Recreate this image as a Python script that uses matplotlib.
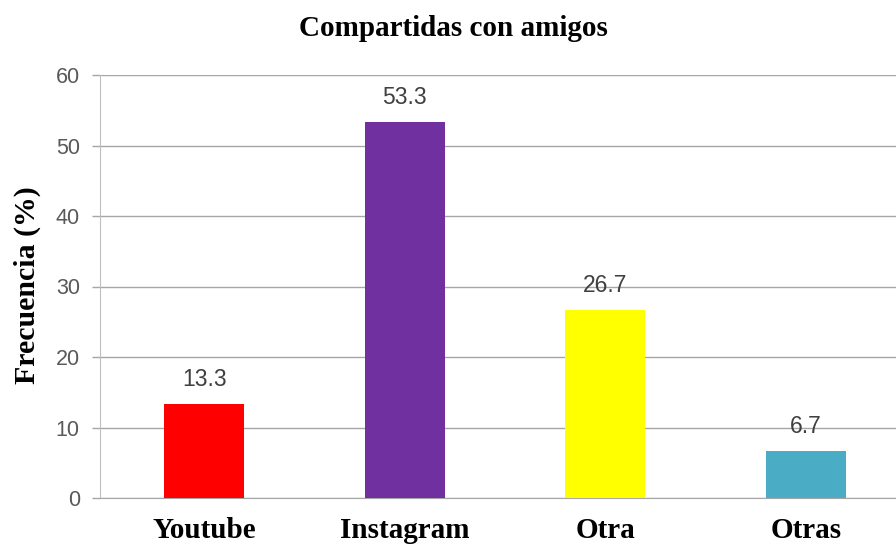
import matplotlib
matplotlib.use("Agg")
import matplotlib.pyplot as plt

categories = ["Youtube", "Instagram", "Otra", "Otras"]
values = [13.3, 53.3, 26.7, 6.7]
colors = ["#FF0000", "#7030A0", "#FFFF00", "#4BACC6"]
yticks = [0, 10, 20, 30, 40, 50, 60]

fig = plt.figure(figsize=(8.96, 5.44), dpi=100)
ax = fig.add_axes([100/896, 1-498/544, 1-100/896, (498-75)/544])

x = list(range(len(categories)))
bars = ax.bar(x, values, width=0.4, color=colors, zorder=3)
for xi, v in zip(x, values):
    ax.text(xi, v + 3.5, f"{v:.1f}", ha="center", va="center",
            fontsize=16.5, color="#404040", family="Liberation Sans")

ax.set_xlim(-0.52, 3.45)
ax.set_ylim(0, 60)
ax.set_yticks(yticks)
ax.set_xticks(x)
ax.set_xticklabels(categories, family="Liberation Serif", fontweight="bold", fontsize=21)
for lab in ax.get_yticklabels():
    lab.set_family("Liberation Sans")
    lab.set_fontsize(15.5)
    lab.set_color("#595959")
ax.tick_params(axis="x", length=0, pad=14)
ax.tick_params(axis="y", length=5.5, width=1, color="#a6a6a6", pad=9)
ax.grid(axis="y", color="#a6a6a6", linewidth=1, zorder=0)
for s in ["top", "right"]:
    ax.spines[s].set_visible(False)
ax.spines["left"].set_color("#bfbfbf")
ax.spines["bottom"].set_color("#a6a6a6")

fig.text(27/896, 1-285/544, "Frecuencia (%)", rotation=90, ha="center", va="center",
         family="Liberation Serif", fontweight="bold", fontsize=21.5)
fig.text(453/896, 1-28/544, "Compartidas con amigos", ha="center", va="center",
         family="Liberation Serif", fontweight="bold", fontsize=21)

fig.savefig("out.png", dpi=100)
